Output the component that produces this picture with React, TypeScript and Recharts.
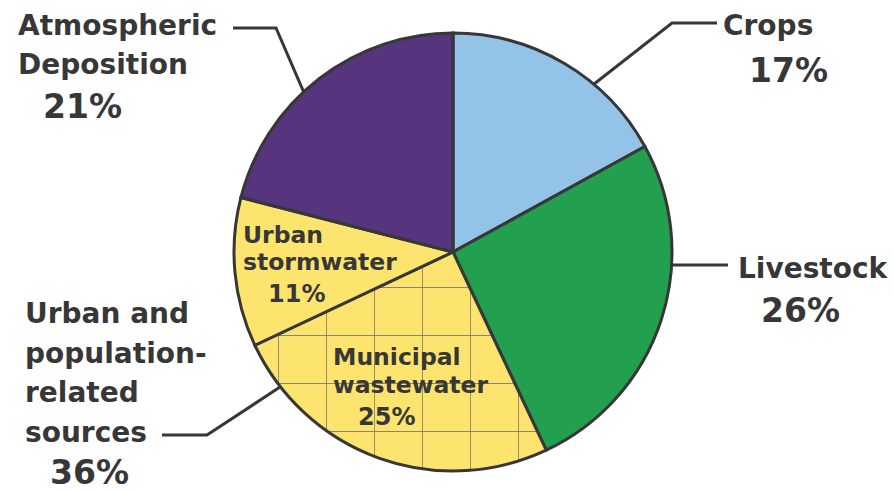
import { PieChart, Pie, Cell } from "recharts";

// Share of nitrogen load by source, clockwise from 12 o'clock
const sources = [
  "Crops",
  "Livestock",
  "Municipal wastewater",
  "Urban stormwater",
  "Atmospheric Deposition",
];
const shares = [17, 26, 25, 11, 21];
const sliceColors = ["#93C4E8", "#22A050", "url(#gridFill)", "#FDE46F", "#56347E"];

// The two urban slices are summed into one outer bracket label
const urbanGroup = ["Municipal wastewater", "Urban stormwater"];
const urbanGroupLines = ["Urban and", "population-", "related", "sources"];

// Text lines per slice (outer labels for the big ones, inner for the urban ones)
const nameLines = [
  ["Crops"],
  ["Livestock"],
  ["Municipal", "wastewater"],
  ["Urban", "stormwater"],
  ["Atmospheric", "Deposition"],
];

const data = sources.map((name, i) => ({ name, value: shares[i] }));
const urbanTotal = data
  .filter((d) => urbanGroup.includes(d.name))
  .reduce((s, d) => s + d.value, 0);

const INK = "#373737";
const FONT = "'DejaVu Sans', 'Open Sans', sans-serif";

type Layout = {
  x: number;
  y: number;
  pctX: number;
  pctY: number;
  lineGap: number;
  size: number;
  pctSize: number;
  // leader line: point on the rim (degrees, counter-clockwise from 3 o'clock), elbow, end
  leader?: { deg: number; elbow: [number, number]; end: [number, number] };
};

const layouts: Layout[] = [
  { x: 723, y: 35, pctX: 749, pctY: 82, lineGap: 39, size: 28, pctSize: 33,
    leader: { deg: 50, elbow: [672, 23], end: [717, 23] } },
  { x: 738, y: 278, pctX: 761, pctY: 322, lineGap: 39, size: 28, pctSize: 33,
    leader: { deg: -3.4, elbow: [728, 265], end: [728, 265] } },
  { x: 333, y: 365, pctX: 358, pctY: 425, lineGap: 28, size: 23.5, pctSize: 24 },
  { x: 243, y: 243, pctX: 268, pctY: 302, lineGap: 27, size: 23.5, pctSize: 24 },
  { x: 18, y: 35, pctX: 43, pctY: 118, lineGap: 39, size: 28, pctSize: 33,
    leader: { deg: 133, elbow: [276, 28], end: [233, 28] } },
];

const groupLayout: Layout = {
  x: 25, y: 323, pctX: 50, pctY: 484, lineGap: 39.7, size: 28, pctSize: 33,
  leader: { deg: 218, elbow: [207, 435], end: [162, 435] },
};

function Leader({ cx, cy, r, l }: { cx: number; cy: number; r: number; l: Layout }) {
  if (!l.leader) return null;
  const a = (l.leader.deg * Math.PI) / 180;
  const sx = cx + r * Math.cos(a);
  const sy = cy - r * Math.sin(a);
  const [ex, ey] = l.leader.elbow;
  const [tx, ty] = l.leader.end;
  return (
    <polyline
      points={`${sx},${sy} ${ex},${ey} ${tx},${ty}`}
      fill="none"
      stroke={INK}
      strokeWidth={3}
    />
  );
}

function TextBlock({ lines, pct, l }: { lines: string[]; pct: number; l: Layout }) {
  return (
    <g fill={INK} fontFamily={FONT} fontWeight={700}>
      {lines.map((t, k) => (
        <text key={k} x={l.x} y={l.y + k * l.lineGap} fontSize={l.size}>
          {t}
        </text>
      ))}
      <text x={l.pctX} y={l.pctY} fontSize={l.pctSize}>
        {pct}%
      </text>
    </g>
  );
}

const renderLabel = (props: any) => {
  const { cx, cy, outerRadius, index } = props;
  const l = layouts[index];
  return (
    <g key={`lbl-${index}`}>
      <Leader cx={cx} cy={cy} r={outerRadius} l={l} />
      <TextBlock lines={nameLines[index]} pct={shares[index]} l={l} />
      {sources[index] === urbanGroup[0] && (
        <>
          <Leader cx={cx} cy={cy} r={outerRadius} l={groupLayout} />
          <TextBlock lines={urbanGroupLines} pct={urbanTotal} l={groupLayout} />
        </>
      )}
    </g>
  );
};

export default function App() {
  return (
    <div style={{ position: "absolute", left: 0, top: 0, width: 894, height: 492, background: "#fff" }}>
      <PieChart width={894} height={492} margin={{ top: 0, right: 0, bottom: 0, left: 0 }}>
        <defs>
          <pattern id="gridFill" patternUnits="userSpaceOnUse" x={38} y={47} width={48} height={48}>
            <rect x={0} y={0} width={48} height={48} fill="#FDE46F" />
            <line x1={0} y1={0} x2={0} y2={48} stroke="#8a856e" strokeWidth={1.8} />
            <line x1={0} y1={0} x2={48} y2={0} stroke="#8a856e" strokeWidth={1.8} />
          </pattern>
        </defs>
        <Pie
          data={data}
          dataKey="value"
          nameKey="name"
          cx={453}
          cy={252}
          outerRadius={219}
          startAngle={90}
          endAngle={-270}
          stroke={INK}
          strokeWidth={3}
          label={renderLabel}
          labelLine={false}
          isAnimationActive={false}
        >
          {data.map((d, i) => (
            <Cell key={d.name} fill={sliceColors[i]} />
          ))}
        </Pie>
      </PieChart>
    </div>
  );
}
